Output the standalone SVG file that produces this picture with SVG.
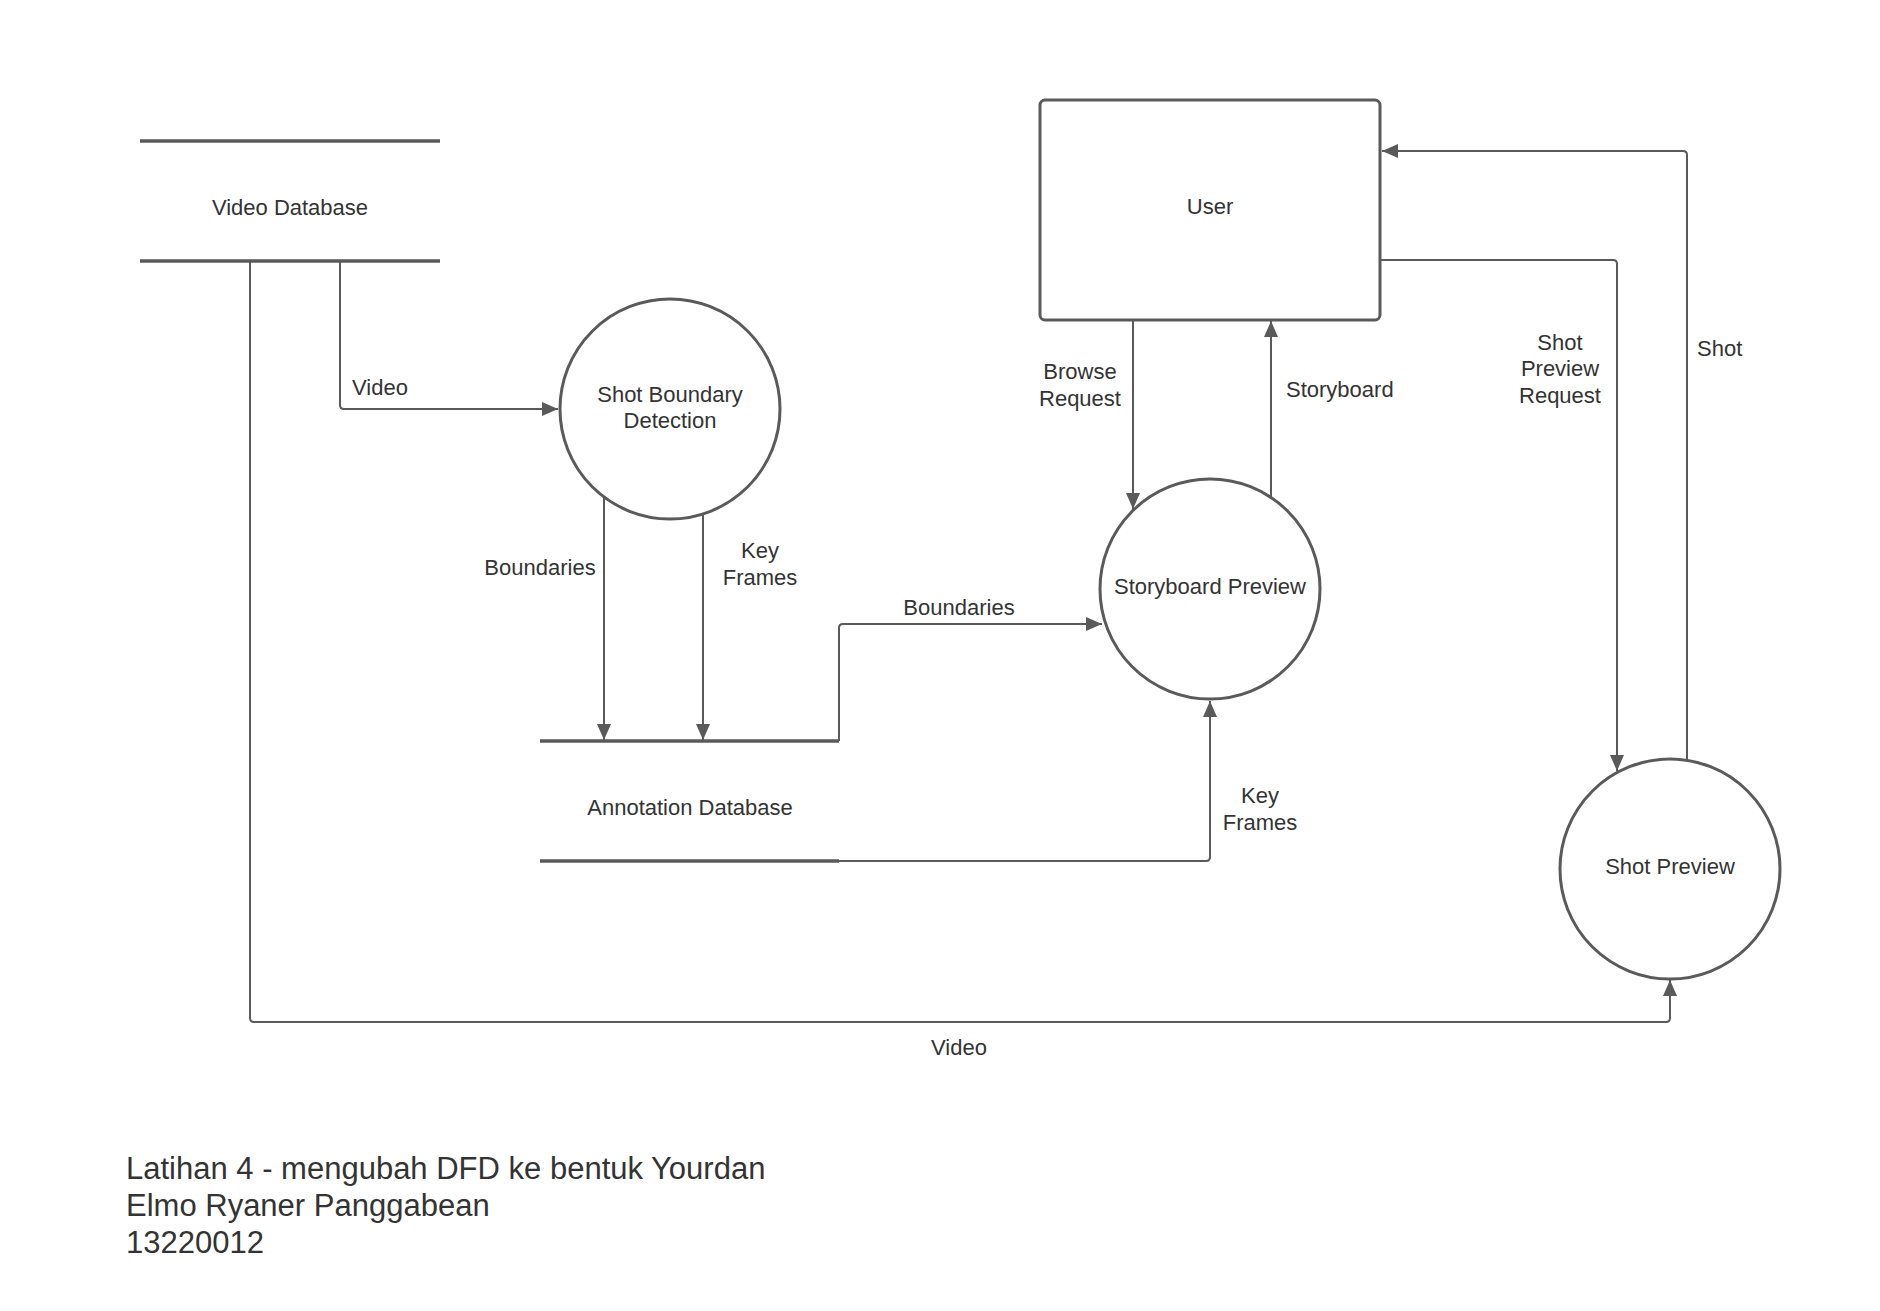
<svg xmlns="http://www.w3.org/2000/svg" width="1880" height="1311" viewBox="0 0 1880 1311">
<style>
text{font-family:"Liberation Sans",Arial,sans-serif;font-size:22px;fill:#333333}
.lbl{text-anchor:middle;dominant-baseline:central}
.lft{dominant-baseline:central}
.shape{fill:#ffffff;stroke:#5a5a5a;stroke-width:3}
.store{stroke:#5a5a5a;stroke-width:3.5;fill:none}
.conn{fill:none;stroke:#5a5a5a;stroke-width:2}
.title{font-size:31px}
</style>
<defs>
<marker id="ah" markerUnits="userSpaceOnUse" markerWidth="18" markerHeight="14" refX="16" refY="7" orient="auto">
<path d="M0,0 L16,7 L0,14 Z" fill="#5a5a5a"/>
</marker>
</defs>
<rect width="1880" height="1311" fill="#ffffff"/>

<g id="connectors">
<path class="conn" d="M340,261 V405 Q340,409 344,409 H558" marker-end="url(#ah)"/>
<path class="conn" d="M250,261 V1018 Q250,1022 254,1022 H1666 Q1670,1022 1670,1018 V980" marker-end="url(#ah)"/>
<path class="conn" d="M604,497 V740" marker-end="url(#ah)"/>
<path class="conn" d="M703,514 V740" marker-end="url(#ah)"/>
<path class="conn" d="M839,741 V628 Q839,624 843,624 H1102" marker-end="url(#ah)"/>
<path class="conn" d="M839,861 H1206 Q1210,861 1210,857 V701" marker-end="url(#ah)"/>
<path class="conn" d="M1133,321 V509" marker-end="url(#ah)"/>
<path class="conn" d="M1271,498 V321" marker-end="url(#ah)"/>
<path class="conn" d="M1381,260 H1613 Q1617,260 1617,264 V771" marker-end="url(#ah)"/>
<path class="conn" d="M1687,760 V155 Q1687,151 1683,151 H1382" marker-end="url(#ah)"/>
<text class="lft" x="352" y="387">Video</text>
<text class="lbl" x="540" y="567">Boundaries</text>
<text class="lbl" x="760" y="550">Key</text>
<text class="lbl" x="760" y="577">Frames</text>
<text class="lbl" x="959" y="607">Boundaries</text>
<text class="lbl" x="1260" y="795">Key</text>
<text class="lbl" x="1260" y="822">Frames</text>
<text class="lbl" x="1080" y="371">Browse</text>
<text class="lbl" x="1080" y="398">Request</text>
<text class="lft" x="1286" y="389">Storyboard</text>
<text class="lbl" x="1560" y="342">Shot</text>
<text class="lbl" x="1560" y="368">Preview</text>
<text class="lbl" x="1560" y="395">Request</text>
<text class="lft" x="1697" y="348">Shot</text>
<text class="lbl" x="959" y="1047">Video</text>
</g>

<g id="video-database">
<line class="store" x1="140" y1="141" x2="440" y2="141"/>
<line class="store" x1="140" y1="261" x2="440" y2="261"/>
<text class="lbl" x="290" y="207">Video Database</text>
</g>

<g id="shot-boundary-detection">
<circle class="shape" cx="670" cy="409" r="110"/>
<text class="lbl" x="670" y="394">Shot Boundary</text>
<text class="lbl" x="670" y="420">Detection</text>
</g>

<g id="annotation-database">
<line class="store" x1="540" y1="741" x2="839" y2="741"/>
<line class="store" x1="540" y1="861" x2="839" y2="861"/>
<text class="lbl" x="690" y="807">Annotation Database</text>
</g>

<g id="user">
<rect class="shape" x="1040" y="100" width="340" height="220" rx="5"/>
<text class="lbl" x="1210" y="206">User</text>
</g>

<g id="storyboard-preview">
<circle class="shape" cx="1210" cy="589" r="110"/>
<text class="lbl" x="1210" y="586">Storyboard Preview</text>
</g>

<g id="shot-preview">
<circle class="shape" cx="1670" cy="869" r="110"/>
<text class="lbl" x="1670" y="866">Shot Preview</text>
</g>

<g id="caption">
<text class="title" x="126" y="1179">Latihan 4 - mengubah DFD ke bentuk Yourdan</text>
<text class="title" x="126" y="1216">Elmo Ryaner Panggabean</text>
<text class="title" x="126" y="1253">13220012</text>
</g>
</svg>
